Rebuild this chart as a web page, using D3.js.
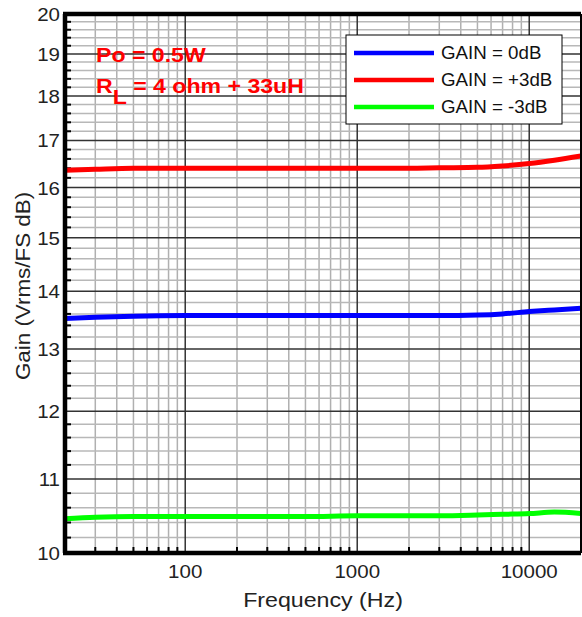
<!DOCTYPE html>
<html>
<head>
<meta charset="utf-8">
<script src="https://cdn.jsdelivr.net/npm/d3@7"></script>
<style>
  body { margin: 0; background: #fff; }
  text { font-family: "Liberation Sans", Arial, sans-serif; }
</style>
</head>
<body>
<script>
// Data
let freqs = [20, 30, 50, 100, 200, 500, 1000, 2000, 3000, 5000, 7000, 10000, 14000, 20000];
let gain0 = [13.52, 13.54, 13.56, 13.57, 13.57, 13.57, 13.57, 13.57, 13.57, 13.58, 13.60, 13.64, 13.67, 13.70];
let gainPlus3 = [16.36, 16.38, 16.40, 16.40, 16.40, 16.40, 16.40, 16.40, 16.41, 16.42, 16.45, 16.50, 16.57, 16.66];
let gainMinus3 = [10.45, 10.47, 10.48, 10.48, 10.48, 10.48, 10.49, 10.49, 10.49, 10.50, 10.51, 10.52, 10.54, 10.52];

let seriesNames = ["GAIN = 0dB", "GAIN = +3dB", "GAIN = -3dB"];
let seriesColors = ["#0000ff", "#ff0000", "#00ff00"];
let xTicks = [100, 1000, 10000];
let yTicks = [10, 11, 12, 13, 14, 15, 16, 17, 18, 19, 20];

let width = 582;
let height = 617;
let plotLeft = 65, plotRight = 581, plotTop = 14, plotBottom = 553;

let svg = d3.select("body").append("svg")
  .attr("width", width)
  .attr("height", height);

let x = d3.scaleLog().domain([20, 20000]).range([plotLeft, plotRight]);
let y = d3.scaleLog().domain([10, 20]).range([plotBottom, plotTop]);

// the original text looks a bit wider than Arial, so stretch it
function placeText(sel, tx, ty, sx) {
  return sel.attr("transform", `translate(${tx},${ty}) scale(${sx},1)`);
}

// minor grid values
let xMinor = [];
for (let dec of [10, 100, 1000, 10000]) {
  for (let m = 2; m <= 9; m++) {
    let f = dec * m;
    if (f > 20 && f < 20000) xMinor.push(f);
  }
}
let yMinor = [];
for (let v = 10; v < 20; v++) {
  for (let k = 1; k <= 4; k++) yMinor.push(v + k * 0.2);
}

let grid = svg.append("g");
grid.selectAll(".xminor").data(xMinor).enter().append("line")
  .attr("x1", d => x(d)).attr("x2", d => x(d))
  .attr("y1", plotTop).attr("y2", plotBottom)
  .style("stroke", "#b0b0b0").style("stroke-width", 1.5);
grid.selectAll(".yminor").data(yMinor).enter().append("line")
  .attr("x1", plotLeft).attr("x2", plotRight)
  .attr("y1", d => y(d)).attr("y2", d => y(d))
  .style("stroke", "#b8b8b8").style("stroke-width", 1.5);
grid.selectAll(".xmajor").data(xTicks).enter().append("line")
  .attr("x1", d => x(d)).attr("x2", d => x(d))
  .attr("y1", plotTop).attr("y2", plotBottom)
  .style("stroke", "#333").style("stroke-width", 1.5);
grid.selectAll(".ymajor").data(yTicks.slice(1, -1)).enter().append("line")
  .attr("x1", plotLeft).attr("x2", plotRight)
  .attr("y1", d => y(d)).attr("y2", d => y(d))
  .style("stroke", "#333").style("stroke-width", 1.5);

// small inward ticks
svg.selectAll(".ytick").data(yMinor).enter().append("line")
  .attr("x1", plotLeft).attr("x2", plotLeft + 6)
  .attr("y1", d => y(d)).attr("y2", d => y(d))
  .style("stroke", "#000").style("stroke-width", 2);
svg.selectAll(".xtick").data(xMinor).enter().append("line")
  .attr("x1", d => x(d)).attr("x2", d => x(d))
  .attr("y1", plotBottom).attr("y2", plotBottom - 6)
  .style("stroke", "#000").style("stroke-width", 2);

// curves
let line = d3.line()
  .x((d, i) => x(freqs[i]))
  .y(d => y(d))
  .curve(d3.curveMonotoneX);

let allSeries = [gain0, gainPlus3, gainMinus3];
svg.append("clipPath").attr("id", "clip")
  .append("rect").attr("x", plotLeft).attr("y", plotTop)
  .attr("width", plotRight - plotLeft).attr("height", plotBottom - plotTop);

svg.append("g").attr("clip-path", "url(#clip)")
  .selectAll("path").data(allSeries).enter().append("path")
  .attr("d", line)
  .style("fill", "none")
  .style("stroke", (d, i) => seriesColors[i])
  .style("stroke-width", 5);

// frame
svg.append("line").attr("x1", plotLeft - 2).attr("x2", plotRight).attr("y1", plotTop).attr("y2", plotTop)
  .style("stroke", "#000").style("stroke-width", 4.5);
svg.append("line").attr("x1", plotLeft - 2).attr("x2", plotRight).attr("y1", plotBottom).attr("y2", plotBottom)
  .style("stroke", "#000").style("stroke-width", 4.5);
svg.append("line").attr("x1", plotLeft).attr("x2", plotLeft).attr("y1", plotTop).attr("y2", plotBottom)
  .style("stroke", "#000").style("stroke-width", 4.5);
svg.append("line").attr("x1", plotRight).attr("x2", plotRight).attr("y1", plotTop).attr("y2", plotBottom)
  .style("stroke", "#000").style("stroke-width", 2);

// tick labels
svg.selectAll(".ylab").data(yTicks).enter().append("text")
  .attr("text-anchor", "end")
  .attr("transform", d => `translate(60,${y(d) + 7}) scale(1.08,1)`)
  .style("font-size", "19px").style("fill", "#222")
  .text(d => d);
svg.selectAll(".xlab").data(xTicks).enter().append("text")
  .attr("text-anchor", "middle")
  .attr("transform", d => `translate(${x(d)},578) scale(1.08,1)`)
  .style("font-size", "19px").style("fill", "#222")
  .text(d => d);

// axis titles
placeText(svg.append("text"), 323, 607, 1.16)
  .attr("text-anchor", "middle")
  .style("font-size", "20px").style("fill", "#222")
  .text("Frequency (Hz)");
svg.append("text")
  .attr("transform", "translate(29.5,286) rotate(-90) scale(1.12,1)")
  .attr("text-anchor", "middle")
  .style("font-size", "20px").style("fill", "#222")
  .text("Gain (Vrms/FS dB)");

// annotation
placeText(svg.append("text"), 96, 62, 1.1)
  .style("font-size", "21px").style("font-weight", "bold").style("fill", "#ff0000")
  .text("Po = 0.5W");
let rl = placeText(svg.append("text"), 96, 93, 1.1)
  .style("font-size", "21px").style("font-weight", "bold").style("fill", "#ff0000");
rl.append("tspan").text("R");
rl.append("tspan").attr("dy", 11).text("L");
rl.append("tspan").attr("dy", -11).text(" = 4 ohm + 33uH");

// legend
let legend = svg.append("g");
legend.append("rect")
  .attr("x", 346).attr("y", 35).attr("width", 216).attr("height", 89)
  .style("fill", "#fff").style("stroke", "#000").style("stroke-width", 1);
seriesNames.forEach((name, i) => {
  let ly = 53 + i * 27;
  legend.append("line")
    .attr("x1", 354).attr("x2", 434).attr("y1", ly).attr("y2", ly)
    .style("stroke", seriesColors[i]).style("stroke-width", 4.5);
  placeText(legend.append("text"), 441, ly + 6, 1.07)
    .style("font-size", "17.5px").style("fill", "#111")
    .text(name);
});
</script>
</body>
</html>
